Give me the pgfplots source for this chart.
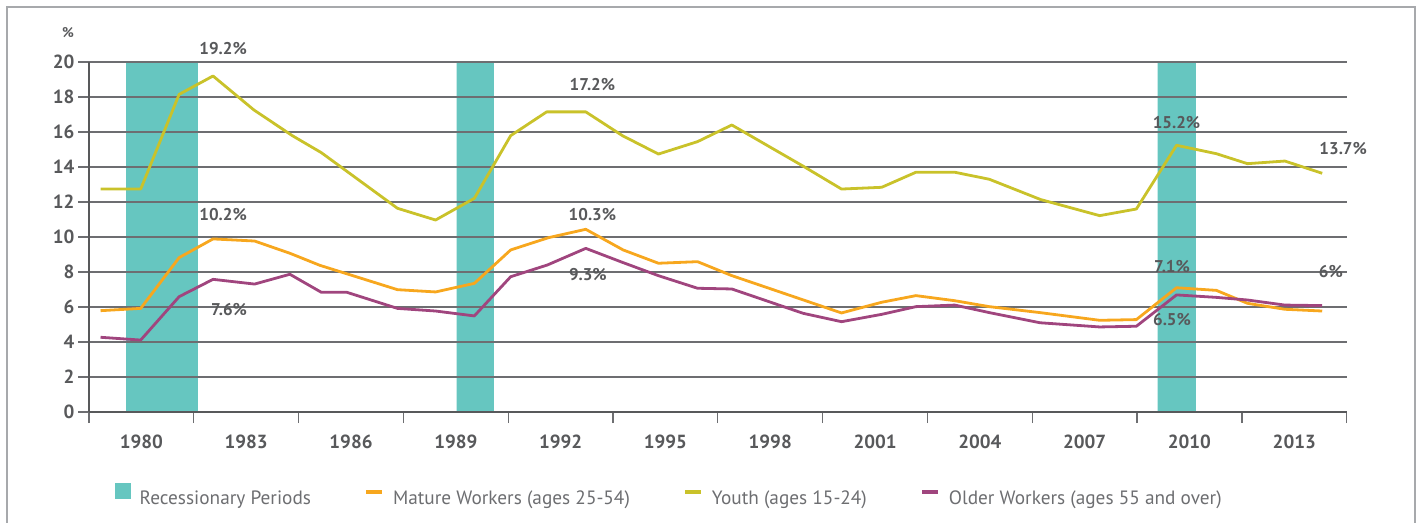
\documentclass[border=0pt]{standalone}
\usepackage{fontspec}
\setmainfont{PT Sans}
\usepackage{pgfplots}
\usepackage{pgfplotstable}
\pgfplotsset{compat=1.18}
\definecolor{recess}{HTML}{66C6C0}
\definecolor{youth}{HTML}{C9C22A}
\definecolor{mature}{HTML}{F7A71E}
\definecolor{older}{HTML}{A0457E}
\definecolor{txt}{HTML}{58595B}
\definecolor{gridc}{HTML}{6D6E71}
\definecolor{framec}{HTML}{A7A9AC}
\definecolor{legtxt}{HTML}{6D6E71}

\pgfplotstableread{
x y
1978.83 12.74
1979.98 12.74
1981.08 18.15
1982.05 19.20
1983.22 17.26
1984.32 15.79
1985.15 14.82
1987.33 11.64
1988.42 10.97
1989.53 12.21
1990.57 15.79
1991.60 17.15
1992.72 17.15
1993.77 15.79
1994.80 14.74
1995.92 15.45
1996.90 16.40
1998.94 14.05
2000.04 12.74
2001.19 12.84
2002.17 13.70
2003.28 13.70
2004.27 13.30
2005.74 12.14
2007.43 11.22
2008.48 11.60
2009.63 15.24
2010.77 14.76
2011.66 14.19
2012.73 14.34
2013.80 13.64
}\youthdata

\pgfplotstableread{
x y
1978.83 5.79
1979.98 5.92
1981.08 8.82
1982.05 9.89
1983.24 9.77
1984.25 9.07
1985.11 8.38
1987.33 6.99
1988.42 6.86
1989.53 7.35
1990.57 9.26
1991.65 9.96
1992.72 10.44
1993.79 9.26
1994.80 8.50
1995.92 8.59
1996.89 7.80
2000.04 5.66
2001.19 6.27
2002.17 6.65
2003.28 6.36
2004.27 6.02
2005.72 5.68
2007.43 5.24
2008.48 5.28
2009.63 7.10
2010.77 6.95
2011.66 6.21
2012.73 5.87
2013.80 5.77
}\maturedata

\pgfplotstableread{
x y
1978.83 4.27
1979.98 4.11
1981.08 6.59
1982.05 7.58
1983.24 7.31
1984.25 7.87
1985.15 6.84
1985.88 6.84
1987.33 5.92
1988.42 5.77
1989.53 5.49
1990.57 7.73
1991.62 8.40
1992.72 9.35
1993.77 8.55
1994.80 7.79
1995.92 7.07
1996.90 7.03
1998.94 5.64
2000.04 5.16
2001.19 5.58
2002.17 6.02
2003.28 6.11
2004.27 5.68
2005.72 5.10
2007.43 4.86
2008.48 4.90
2009.63 6.69
2010.77 6.55
2011.66 6.40
2012.73 6.11
2013.80 6.08
}\olderdata

\begin{document}
\begin{tikzpicture}
\begin{axis}[
  set layers,
  at={(89pt,110pt)}, anchor=south west,
  scale only axis, width=1257.7pt, height=350pt,
  xmin=1978.5, xmax=2014.5, ymin=0, ymax=20,
  clip=false,
  axis x line*=bottom, axis y line*=left,
  axis line style={draw=txt, line width=2.5pt},
  xtick={1978.5,1981.5,1984.5,1987.5,1990.5,1993.5,1996.5,1999.5,2002.5,2005.5,2008.5,2011.5,2014.5},
  xticklabels={1980,1983,1986,1989,1992,1995,1998,2001,2004,2007,2010,2013,{}},
  x tick label as interval,
  xticklabel style={yshift=-8pt},
  ytick={0,2,...,20},
  tick align=outside,
  major tick length=11pt,
  tick style={draw=gridc, line width=1.3pt},
  ymajorgrids,
  grid style={draw=gridc, line width=1.3pt},
  /pgf/number format/assume math mode=true,
  ticklabel style={font=\fontsize{19}{22}\selectfont\bfseries, text=txt},
  legend columns=4,
  legend cell align=left,
  legend style={at={(axis description cs:0.0207,-0.237)}, anchor=west,
    draw=none, fill=none, inner sep=0pt,
    font=\fontsize{19.3}{22}\selectfont, text=legtxt,
    nodes={inner sep=0pt},
    /tikz/every odd column/.append style={column sep=8.5pt},
    /tikz/every even column/.append style={column sep=53pt}},
]
\addplot[on layer=axis background, fill=recess, draw=none,
  legend image code/.code={\fill[recess] (0pt,-0.7pt) rectangle (16pt,15.3pt);}]
  coordinates {(1979.56,0) (1979.56,20) (1981.62,20) (1981.62,0)} \closedcycle;
\addlegendentry{Recessionary Periods}
\addplot[on layer=axis background, fill=recess, draw=none, forget plot]
  coordinates {(1989.02,0) (1989.02,20) (1990.09,20) (1990.09,0)} \closedcycle;
\addplot[on layer=axis background, fill=recess, draw=none, forget plot]
  coordinates {(2009.09,0) (2009.09,20) (2010.18,20) (2010.18,0)} \closedcycle;

\addplot[mature, line width=2.8pt, line join=round,
  legend image code/.code={\draw[line width=4.5pt] (0pt,7pt) -- (16pt,7pt);}]
  table[x=x,y=y] {\maturedata};
\addlegendentry{Mature Workers (ages 25-54)}
\addplot[youth, line width=2.8pt, line join=round,
  legend image code/.code={\draw[line width=4.5pt] (0pt,7pt) -- (16pt,7pt);}]
  table[x=x,y=y] {\youthdata};
\addlegendentry{Youth (ages 15-24)}
\addplot[older, line width=2.8pt, line join=round,
  legend image code/.code={\draw[line width=4.5pt] (0pt,7pt) -- (16pt,7pt);}]
  table[x=x,y=y] {\olderdata};
\addlegendentry{Older Workers (ages 55 and over)}

\begin{scope}[every node/.style={font=\fontsize{17}{20}\selectfont\bfseries, text=txt}]
\node at (axis cs:1982.34,20.74) {19.2\%};
\node at (axis cs:1982.34,11.29) {10.2\%};
\node at (axis cs:1982.51,5.83) {7.6\%};
\node at (axis cs:1992.91,18.69) {17.2\%};
\node at (axis cs:1992.91,11.26) {10.3\%};
\node at (axis cs:1992.78,7.83) {9.3\%};
\node at (axis cs:2009.63,16.54) {15.2\%};
\node at (axis cs:2014.40,15.03) {13.7\%};
\node at (axis cs:2009.50,8.30) {7.1\%};
\node at (axis cs:2009.50,5.27) {6.5\%};
\node at (axis cs:2014.05,8.02) {6\%};
\end{scope}
\end{axis}
\node[font=\fontsize{14}{16}\selectfont\bfseries, text=txt] at (68pt,489pt) {\%};
\draw[framec, line width=2pt] (7pt,-10pt) -- (7pt,515pt) -- (1415pt,515pt) -- (1415pt,-10pt);
\pgfresetboundingbox
\path[use as bounding box] (0pt,0pt) rectangle (1418pt,522pt);
\end{tikzpicture}
\end{document}
